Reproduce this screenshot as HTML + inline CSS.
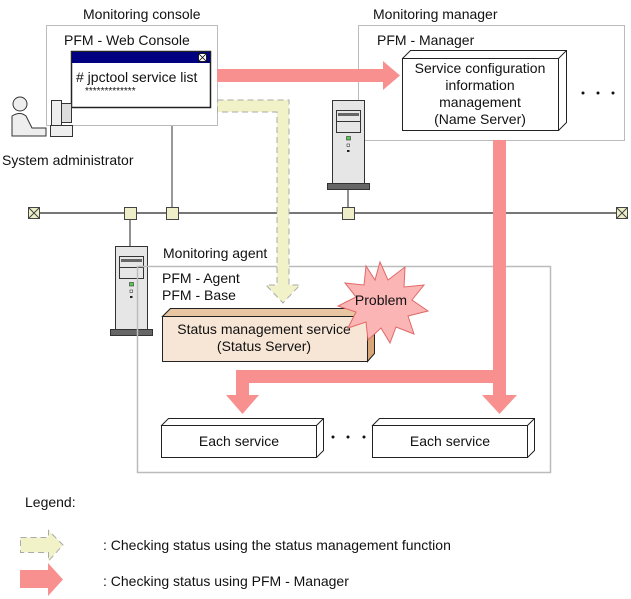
<!DOCTYPE html>
<html><head><meta charset="utf-8"><style>
html,body{margin:0;padding:0;background:#fff;}
svg{display:block;}
text{font-family:"Liberation Sans",Arial,sans-serif;font-size:14px;fill:#111;}
</style></head><body>
<svg width="631" height="599" viewBox="0 0 631 599" xmlns="http://www.w3.org/2000/svg">
<!-- network line -->
<line x1="34" y1="213" x2="622" y2="213" stroke="#777" stroke-width="2"/>
<line x1="172" y1="125" x2="172" y2="207" stroke="#777" stroke-width="1.5"/>
<line x1="130" y1="219" x2="130" y2="246" stroke="#222" stroke-width="1"/>
<line x1="348" y1="189" x2="348" y2="207" stroke="#222" stroke-width="1"/>
<!-- end boxes -->
<g stroke="#444" fill="#eeeec8"><rect x="28.5" y="207.5" width="11" height="11"/><path d="M28.5 207.5L39.5 218.5M39.5 207.5L28.5 218.5"/>
<rect x="616.5" y="207.5" width="11" height="11"/><path d="M616.5 207.5L627.5 218.5M627.5 207.5L616.5 218.5"/></g>
<g stroke="#444" fill="#eeeec8"><rect x="124.5" y="207.5" width="12" height="12"/><rect x="166.5" y="207.5" width="12" height="12"/><rect x="342.5" y="207.5" width="12" height="12"/></g>

<!-- console -->
<text x="83" y="19">Monitoring console</text>
<rect x="46.5" y="25.5" width="171" height="100" fill="#fff" stroke="#bbb"/>
<text x="64" y="45">PFM - Web Console</text>
<rect x="71.5" y="51.5" width="139" height="56" fill="#fff" stroke="#222" stroke-width="1.5"/>
<rect x="72" y="52" width="138" height="11" fill="#000080"/>
<rect x="198.5" y="53.5" width="8" height="8" fill="#fff" stroke="#000" stroke-width="0.8"/><path d="M199 54L206 61M206 54L199 61" stroke="#000" stroke-width="0.8"/>
<text x="76" y="82">#&#160;jpctool service list</text>
<text x="85" y="94" style="font-size:10px">*************</text>

<!-- person -->
<g stroke="#333" fill="#eee" stroke-width="1">
<circle cx="20" cy="104" r="7"/>
<path d="M12 116 Q20 111 26 116 L32 128 L46 128 L46 136 L12 136 Z"/>
<rect x="51.5" y="100.5" width="10" height="25"/>
<rect x="61.5" y="103.5" width="10" height="19" fill="#ddd"/>
<rect x="50.5" y="125.5" width="22" height="11"/>
</g>
<text x="2" y="165">System administrator</text>

<!-- manager -->
<text x="373" y="19">Monitoring manager</text>
<rect x="358.5" y="25.5" width="266" height="115" fill="#fff" stroke="#bbb"/>
<text x="377" y="45">PFM - Manager</text>
<path d="M402.5 58.5 L410.5 50.5 L566.5 50.5 L566.5 122.5 L558.5 130.5 Z" fill="#fff" stroke="#222"/>
<path d="M558.5 58.5 L566.5 50.5" stroke="#222"/>
<rect x="402.5" y="58.5" width="156" height="72" fill="#fff" stroke="#222"/>
<g text-anchor="middle"><text x="480" y="73">Service configuration</text><text x="480" y="90">information</text><text x="480" y="107">management</text><text x="480" y="124">(Name Server)</text></g>
<g fill="#111"><circle cx="583" cy="93" r="1.5"/><circle cx="598" cy="93" r="1.5"/><circle cx="613" cy="93" r="1.5"/></g>

<!-- servers -->
<g id="srv">
<rect x="332.5" y="100.5" width="32" height="83" fill="#e6e6e6" stroke="#333"/>
<rect x="336.5" y="110.5" width="24" height="22" fill="#e6e6e6" stroke="#333"/>
<rect x="338" y="113" width="21" height="3" fill="#666"/>
<line x1="337" y1="121.5" x2="360" y2="121.5" stroke="#333"/>
<rect x="346.5" y="136.5" width="4" height="3.5" fill="#5c5" stroke="#333" stroke-width="0.6"/>
<rect x="347" y="144" width="2.5" height="2.5" fill="#fff" stroke="#333" stroke-width="0.6"/>
<rect x="347" y="150" width="2.5" height="2" fill="#222"/>
<rect x="327.5" y="183.5" width="42" height="6" fill="#666" stroke="#333"/>
</g>
<use href="#srv" transform="translate(-217,146)"/>

<!-- agent -->
<rect x="137.5" y="266.5" width="413" height="206" fill="none" stroke="#bbb" stroke-width="1.5"/>
<text x="163" y="258">Monitoring agent</text>
<text x="162" y="283">PFM - Agent</text>
<text x="162" y="300">PFM - Base</text>

<!-- yellow dashed arrow -->
<path d="M217.5 100 L289 100 L289 285 L300 285 L283 303 L266 285 L277 285 L277 112 L217.5 112 Z" fill="#f2f2c8" stroke="#aaa" stroke-dasharray="6,4"/>

<!-- status box -->
<path d="M162.5 316.5 L170.5 308.5 L374.5 308.5 L374.5 353.5 L367.5 361.5 L367.5 316.5 Z" fill="#d9a677" stroke="#222"/>
<path d="M162.5 316.5 L170.5 308.5 L374.5 308.5 L367.5 316.5 Z" fill="#e8c6a2" stroke="#222"/>
<rect x="162.5" y="316.5" width="205" height="45" fill="#f7e6d6" stroke="#222"/>
<g text-anchor="middle"><text x="264" y="334">Status management service</text><text x="264" y="351">(Status Server)</text></g>

<!-- problem starburst -->
<polygon points="380,262 388,280 405,267 404,287 424,285 412,300 428,311 408,316 414,334 396,327 390,343 381,328 368,340 366,322 348,328 356,312 338,306 356,297 345,283 364,285 366,266 375,280" fill="#fbb5b5" stroke="#e06868"/>
<text x="381" y="305" text-anchor="middle">Problem</text>

<!-- red arrows -->
<path d="M217 69 L383 69 L383 61 L400 75.5 L383 90 L383 82 L217 82 Z" fill="#f99090"/>
<path d="M493 140 L506 140 L506 395 L517 395 L499.5 414 L482 395 L493 395 L493 383 L249 383 L249 395 L259 395 L242.5 414 L226 395 L236 395 L236 370 L493 370 Z" fill="#f99090"/>

<!-- each services -->
<g>
<path d="M161.5 425.5 L168.5 418.5 L323.5 418.5 L323.5 450.5 L316.5 457.5 Z" fill="#fff" stroke="#222"/>
<path d="M316.5 425.5 L323.5 418.5" stroke="#222"/>
<rect x="161.5" y="425.5" width="155" height="32" fill="#fff" stroke="#222"/>
<text x="239" y="446" text-anchor="middle">Each service</text>
</g>
<g>
<path d="M372.5 425.5 L379.5 418.5 L534.5 418.5 L534.5 450.5 L527.5 457.5 Z" fill="#fff" stroke="#222"/>
<path d="M527.5 425.5 L534.5 418.5" stroke="#222"/>
<rect x="372.5" y="425.5" width="155" height="32" fill="#fff" stroke="#222"/>
<text x="450" y="446" text-anchor="middle">Each service</text>
</g>
<g fill="#111"><circle cx="333" cy="437" r="1.5"/><circle cx="348" cy="437" r="1.5"/><circle cx="364" cy="437" r="1.5"/></g>

<!-- legend -->
<text x="25" y="507">Legend:</text>
<path d="M20.5 537.5 L48.5 537.5 L48.5 530.5 L63 545 L48.5 561 L48.5 552.5 L20.5 552.5 Z" fill="#f2f2c8" stroke="#aaa" stroke-dasharray="6,4"/>
<text x="103" y="550">: Checking status using the status management function</text>
<path d="M20 570 L48 570 L48 563 L63 579.5 L48 596 L48 588 L20 588 Z" fill="#f99090"/>
<text x="103" y="586">: Checking status using PFM - Manager</text>
</svg>
</body></html>
